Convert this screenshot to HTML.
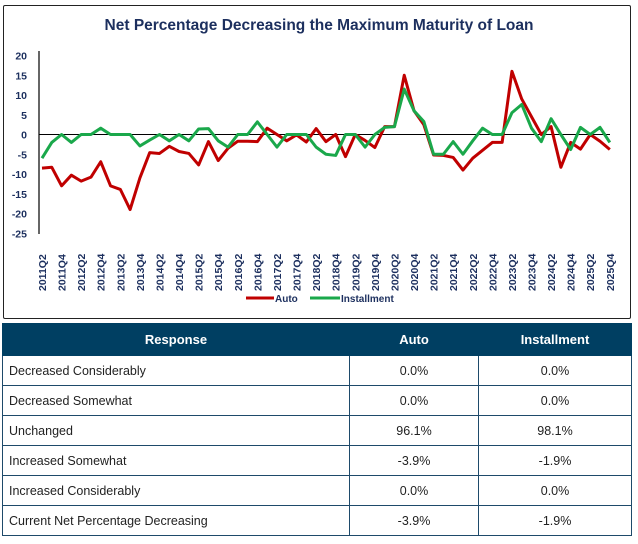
<!DOCTYPE html>
<html><head><meta charset="utf-8"><style>
body{margin:0;width:638px;height:544px;background:#fff;font-family:"Liberation Sans",sans-serif;overflow:hidden}
#box{position:absolute;left:3px;top:5px;width:626px;height:312px;border:1.5px solid #222;border-radius:2px}
table{position:absolute;left:2px;top:323px;width:630px;border-collapse:collapse;font-size:12.5px;color:#222;table-layout:fixed}
th{background:#003f62;color:#fff;font-weight:bold;height:32px;padding:0;font-size:13px;border:1px solid #003f62;box-sizing:border-box}
td{height:30px;padding:0 6px;border:1px solid #1e4a6a;box-sizing:border-box;line-height:14px}
td.c{text-align:center}
</style></head><body>
<div id="box"></div>
<svg id="s" width="638" height="320" style="position:absolute;left:0;top:0" font-family="Liberation Sans, sans-serif">
<text x="319" y="30" text-anchor="middle" font-size="15.5" font-weight="bold" fill="#1c2f5e">Net Percentage Decreasing the Maximum Maturity of Loan</text>
<line x1="39" y1="51" x2="39" y2="234" stroke="#000" stroke-width="1.2"/>
<g id="g"></g>
<line x1="246" y1="298" x2="274" y2="298" stroke="#c00000" stroke-width="3"/>
<text x="275" y="302" font-size="10" font-weight="bold" fill="#1c2f5e">Auto</text>
<line x1="310" y1="298" x2="340" y2="298" stroke="#1aa84b" stroke-width="3"/>
<text x="341" y="302" font-size="10" font-weight="bold" fill="#1c2f5e">Installment</text>
</svg>
<table>
<colgroup><col style="width:347px"><col style="width:129px"><col></colgroup>
<tr><th>Response</th><th>Auto</th><th>Installment</th></tr>
<tr><td>Decreased Considerably</td><td class="c">0.0%</td><td class="c">0.0%</td></tr>
<tr><td>Decreased Somewhat</td><td class="c">0.0%</td><td class="c">0.0%</td></tr>
<tr><td>Unchanged</td><td class="c">96.1%</td><td class="c">98.1%</td></tr>
<tr><td>Increased Somewhat</td><td class="c">-3.9%</td><td class="c">-1.9%</td></tr>
<tr><td>Increased Considerably</td><td class="c">0.0%</td><td class="c">0.0%</td></tr>
<tr><td>Current Net Percentage Decreasing</td><td class="c">-3.9%</td><td class="c">-1.9%</td></tr>
</table>
<script>
var red=[-8.5,-8.3,-13,-10.3,-11.8,-10.8,-6.9,-13,-13.9,-19,-11,-4.6,-4.8,-3,-4.3,-4.8,-7.7,-1.8,-6.6,-3.5,-1.7,-1.7,-1.8,1.6,0,-1.6,-0.1,-1.9,1.5,-1.8,0,-5.6,0,-1.5,-3.3,2,2,15,6,2.5,-5.2,-5.3,-5.8,-9,-6,-4,-2,-2,16,9,4.5,0,2,-8.3,-2,-3.7,0,-1.7,-3.8];
var grn=[-6,-2,0,-2,0,0,1.6,0,0,0,-2.9,-1.4,0,-1.6,0,-1.6,1.4,1.5,-1.6,-3.2,0,0,3.2,0,-3.2,0,0,0,-3.2,-5,-5.3,0,0,-3.2,0,1.8,2,11.5,6,3.3,-5,-5,-1.8,-5,-1.6,1.6,0,0,5.5,7.6,1.6,-1.8,4,0,-3.8,1.8,0,1.8,-2];
var X=function(i){return 42+i*9.79},Y=function(v){return 134.5-v*3.95};
var h='';
for(var v=20;v>=-25;v-=5)h+='<text x="27" y="'+(Y(v)+4)+'" text-anchor="end" font-size="10.5" font-weight="bold" fill="#1c2f5e">'+v+'</text>';
h+='<line x1="39" y1="134.5" x2="610" y2="134.5" stroke="#000" stroke-width="1"/>';
var q=['Q2','Q4'];
for(var k=0;k<30;k++){var x=42+k*19.58,yr=2011+Math.floor(k/2);
h+='<text transform="translate('+(x+4)+',291) rotate(-90)" font-size="10.5" font-weight="bold" fill="#1c2f5e">'+yr+q[k%2]+'</text>';}
function pl(a,c){return '<polyline fill="none" stroke="'+c+'" stroke-width="3" stroke-linejoin="round" points="'+a.map(function(v,i){return X(i)+','+Y(v)}).join(' ')+'"/>';}
h+=pl(red,'#c00000')+pl(grn,'#1aa84b');
document.getElementById('g').innerHTML=h;
</script>
</body></html>
